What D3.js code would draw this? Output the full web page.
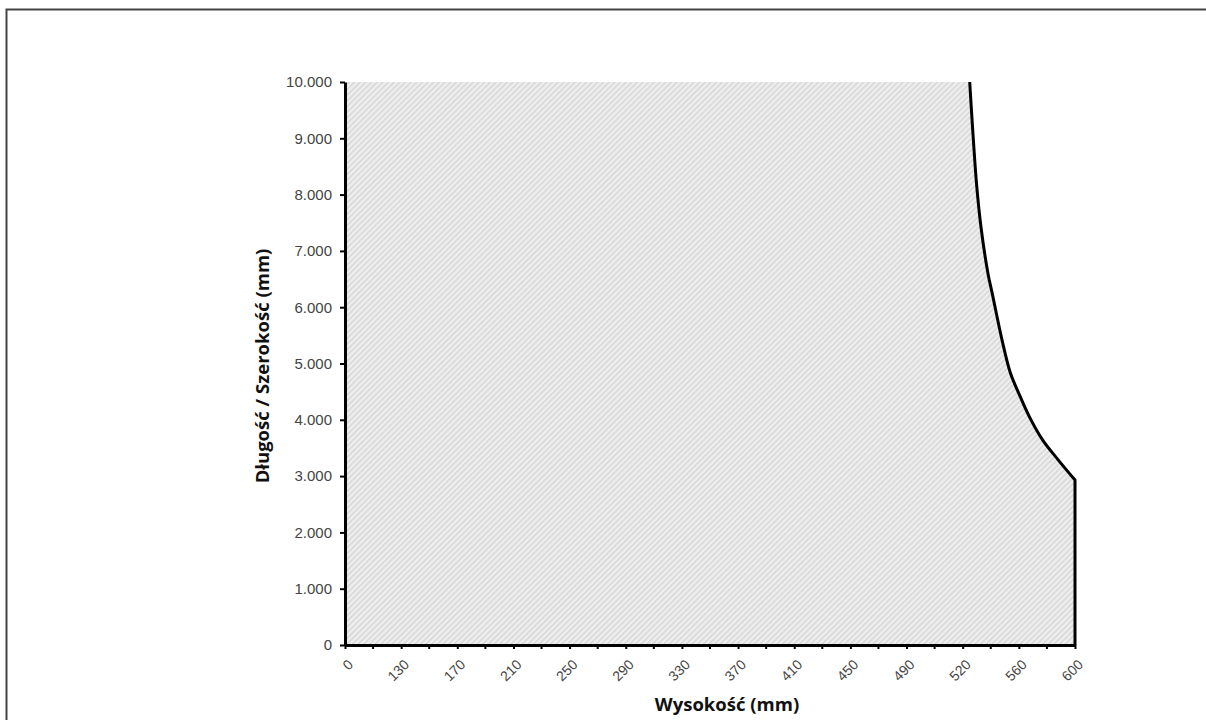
<!DOCTYPE html>
<html>
<head>
<meta charset="utf-8">
<script src="https://cdn.jsdelivr.net/npm/d3@7"></script>
<style>
  html, body { margin: 0; padding: 0; background: #fff; }
  svg { display: block; }
</style>
</head>
<body>
<svg id="chart" width="1206" height="720"></svg>
<script>
// Category tick labels on the x axis (Wysokość, mm)
const xTickValues = [0, 130, 170, 210, 250, 290, 330, 370, 410, 450, 490, 520, 560, 600];
// Y axis tick values (Długość / Szerokość, mm)
const yTickValues = [0, 1000, 2000, 3000, 4000, 5000, 6000, 7000, 8000, 9000, 10000];
// Boundary curve
const curveHeights = [525, 527, 530, 533, 538, 541, 548, 554, 561, 568, 577, 587, 600];
const curveLengths = [10000, 9200, 8150, 7430, 6600, 6250, 5420, 4830, 4410, 4030, 3640, 3320, 2930];

const svg = d3.select("#chart");
const plotLeft = 345, plotRight = 1075, plotTop = 82, plotBottom = 645;

// outer frame
svg.append("rect").attr("x", 6.5).attr("y", 9.5).attr("width", 1250).attr("height", 800)
  .attr("fill", "none").attr("stroke", "#444").attr("stroke-width", 2);

// piecewise x scale: labelled categories evenly spaced
const xRange = xTickValues.map((d, i) => plotLeft + i * (plotRight - plotLeft) / (xTickValues.length - 1));
const x = d3.scaleLinear().domain(xTickValues).range(xRange);
const y = d3.scaleLinear().domain([0, 10000]).range([plotBottom, plotTop]);

// hatch pattern
const defs = svg.append("defs");
const pat = defs.append("pattern").attr("id", "hatch").attr("patternUnits", "userSpaceOnUse")
  .attr("width", 4).attr("height", 4).attr("patternTransform", "rotate(45)");
pat.append("rect").attr("width", 4).attr("height", 4).attr("fill", "#eeeeee");
pat.append("rect").attr("width", 1.5).attr("height", 4).attr("fill", "#d6d6d6");

const curve = d3.curveCatmullRom.alpha(0.5);

// area data: top edge at 10000 from the y axis to curve start, then the curve, then down to 0
const pts = [{h: 0, v: 10000}].concat(curveHeights.map((h, i) => ({h, v: curveLengths[i]})));
const area = d3.area().x(d => x(d.h)).y0(y(0)).y1(d => y(d.v));
// fill: flat top part + smooth curve part
const curvePts = curveHeights.map((h, i) => ({h, v: curveLengths[i]}));
const lineGen = d3.line().x(d => x(d.h)).y(d => y(d.v)).curve(curve);
const curvePath = lineGen(curvePts);
const fillPath = `M${x(0)},${y(0)}L${x(0)},${y(10000)}L${x(curveHeights[0])},${y(10000)}` +
  curvePath.replace(/^M/, "L") + `L${x(600)},${y(0)}Z`;
svg.append("path").attr("d", fillPath).attr("fill", "url(#hatch)");

// curve line + vertical drop
svg.append("path").attr("d", curvePath + `L${x(600)},${y(0)}`)
  .attr("fill", "none").attr("stroke", "#000").attr("stroke-width", 3);

// y axis
const yAxis = d3.axisLeft(y).tickValues(yTickValues).tickSize(5).tickSizeOuter(0)
  .tickFormat(d => d3.format(",")(d).replace(/,/g, "."));
const gy = svg.append("g").attr("transform", `translate(${plotLeft},0)`).call(yAxis);
gy.select(".domain").attr("stroke", "#000").attr("stroke-width", 3);
gy.selectAll(".tick line").attr("stroke", "#000").attr("stroke-width", 2);
gy.selectAll(".tick text").attr("font-family", "Liberation Sans, Arial, sans-serif")
  .attr("font-size", 15).attr("fill", "#444").attr("x", -13);

// x axis (ticks at every half-step between labels)
const xAxis = d3.axisBottom(x).tickValues(xTickValues).tickSize(4).tickSizeOuter(0);
const gx = svg.append("g").attr("transform", `translate(0,${plotBottom})`).call(xAxis);
gx.select(".domain").attr("stroke", "#000").attr("stroke-width", 3);
gx.selectAll(".tick line").attr("stroke", "#000").attr("stroke-width", 2);
gx.selectAll(".tick text").attr("font-family", "Liberation Sans, Arial, sans-serif")
  .attr("font-size", 14).attr("fill", "#444")
  .attr("text-anchor", "end").attr("dy", "0.35em")
  .attr("transform", "translate(5,17) rotate(-45)").attr("x", 0).attr("y", 0);
// minor ticks between labels
const mids = d3.pairs(xRange).map(([a, b]) => (a + b) / 2);
svg.append("g").selectAll("line").data(mids).join("line")
  .attr("x1", d => d).attr("x2", d => d).attr("y1", plotBottom).attr("y2", plotBottom + 4)
  .attr("stroke", "#000").attr("stroke-width", 2);

// axis titles
svg.append("text").attr("x", 727).attr("y", 711).attr("text-anchor", "middle")
  .attr("font-family", "Open Sans, sans-serif").attr("font-weight", "bold").attr("font-size", 18.5)
  .attr("fill", "#111").text("Wysokość (mm)");
svg.append("text").attr("transform", `translate(269,366) rotate(-90)`)
  .attr("text-anchor", "middle")
  .attr("font-family", "Open Sans, sans-serif").attr("font-weight", "bold").attr("font-size", 18.5)
  .attr("fill", "#111").text("Długość / Szerokość (mm)");
</script>
</body>
</html>
